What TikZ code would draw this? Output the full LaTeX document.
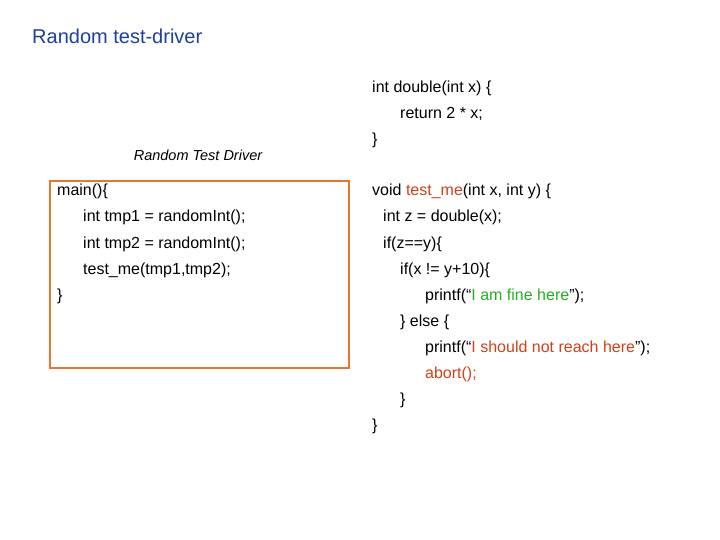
\documentclass[tikz,border=0pt]{standalone}
\usepackage{fontspec}
\setmainfont{Liberation Sans}
\definecolor{titleblue}{HTML}{1F3F9F}
\definecolor{boxorange}{HTML}{E8772E}
\definecolor{hired}{HTML}{D2401A}
\definecolor{higreen}{HTML}{22B022}
\begin{document}
\begin{tikzpicture}[x=1pt,y=-1pt,
        codeline/.style={anchor=base west, inner sep=0pt, font=\fontsize{16}{19}\selectfont},
        driverbox/.style={rectangle, draw=boxorange, line width=2.2pt, anchor=north west, minimum width=299pt, minimum height=187pt},
    ]
        \useasboundingbox (0,0) rectangle (720,540);

        %Title
        \node[anchor=base west, inner sep=0pt, text=titleblue, font=\fontsize{20}{24}\selectfont] (title) at (32,44) {Random test-driver};

        %Driver
        \node[anchor=base, inner sep=0pt, font=\fontsize{14.5}{17}\selectfont\itshape] (drvlabel) at (198,161) {Random Test Driver};
        \node[driverbox] (drvbox) at (49,180) {};
        \node[codeline] (m1) at (57,196) {main()\{};
        \node[codeline] (m2) at (83,222) {int tmp1 = randomInt();};
        \node[codeline] (m3) at (83,248) {int tmp2 = randomInt();};
        \node[codeline] (m4) at (83,274) {test\_me(tmp1,tmp2);};
        \node[codeline] (m5) at (57,300) {\}};

        %Double
        \node[codeline] (d1) at (372,93) {int double(int x) \{};
        \node[codeline] (d2) at (400,119) {return 2 * x;};
        \node[codeline] (d3) at (372,145) {\}};

        %Test me
        \node[codeline] (t1) at (372,196) {void \textcolor{hired}{test\_me}(int x, int y) \{};
        \node[codeline] (t2) at (383,222) {int z = double(x);};
        \node[codeline] (t3) at (383,248) {if(z==y)\{};
        \node[codeline] (t4) at (400,274) {if(x != y+10)\{};
        \node[codeline] (t5) at (425,300) {printf(“\textcolor{higreen}{I am fine here}”);};
        \node[codeline] (t6) at (400,326) {\} else \{};
        \node[codeline] (t7) at (425,352) {printf(“\textcolor{hired}{I should not reach here}”);};
        \node[codeline, text=hired] (t8) at (425,378) {abort();};
        \node[codeline] (t9) at (400,404) {\}};
        \node[codeline] (t10) at (372,430) {\}};
    \end{tikzpicture}
\end{document}
